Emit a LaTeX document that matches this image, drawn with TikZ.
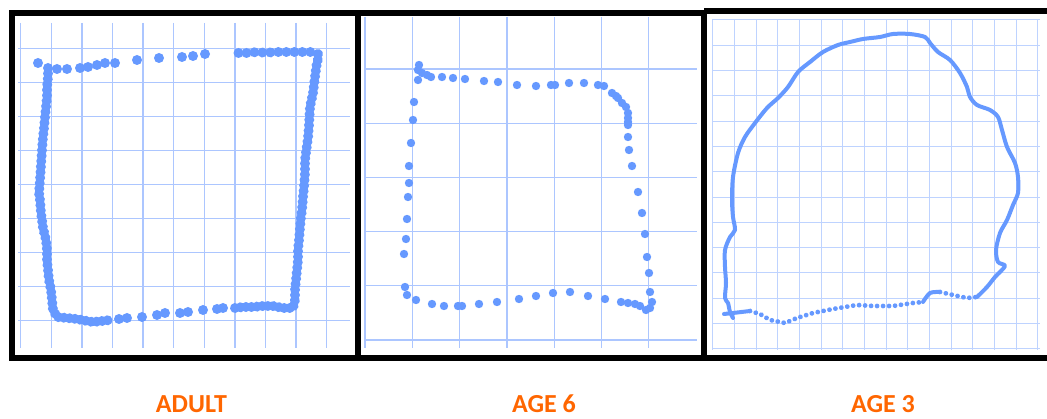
\documentclass[tikz,border=0pt]{standalone}
\usepackage{fontspec}
\newfontfamily\lblfont{Carlito}
\usetikzlibrary{decorations.markings}
\definecolor{dotc}{RGB}{102,153,255}
\definecolor{gridc}{RGB}{172,198,255}
\definecolor{gridl}{RGB}{190,211,255}
\definecolor{lblc}{RGB}{255,102,0}
\begin{document}
\begin{tikzpicture}[x=1pt,y=-1pt,
  dotrow/.style 2 args={decoration={markings,mark=between positions 0 and 1 step #1 with {\fill[dotc] (0,0) circle (#2);}},decorate},
  gridA/.style={draw=gridc,line width=1.3pt},
  gridB/.style={draw=gridl,line width=1pt},
  frame/.style={draw=black,line width=6pt},
  curve/.style={draw=dotc,line width=4pt,line cap=round,line join=round},
  lbl/.style={text=lblc,font=\lblfont\bfseries\fontsize{26}{30}\selectfont,anchor=base}]
\useasboundingbox[fill=white] (0,0) rectangle (1047,419);

% ---------- grids ----------
\foreach \i in {0,...,10} \draw[gridA] ({20.7+30.6*\i},23) -- ({20.7+30.6*\i},348);
\foreach \j in {0,...,8} \draw[gridA] (18,{48.3+34*\j}) -- (350,{48.3+34*\j});
\foreach \i in {-1,...,5} \draw[gridA] ({412.3+47.3*\i},17) -- ({412.3+47.3*\i},348);
\foreach \j in {0,...,5} \draw[gridA] (365,{69+54.2*\j}) -- (697,{69+54.2*\j});
\foreach \i in {0,...,15} \draw[gridB] ({712.7+21.67*\i},20) -- ({712.7+21.67*\i},350);
\foreach \j in {0,...,13} \draw[gridB] (712,{20+25.3*\j}) -- (1040,{20+25.3*\j});

% ---------- ADULT square ----------
\foreach \p in {(38,63),(57,69),(67,69),(80,68),(88,67),(97,65),(105,63),(115,63),(137,60),(159,58),(182,57),(193,56),(205,54),
  (119,319),(127,318),(142,317),(157,315),(165,313),(180,313),(188,312),(203,310),(217,309),(223,308)}
  \fill[dotc] \p circle (5pt);
\path[dotrow={5.5pt}{5pt}] (48,68) -- (48,77) -- (47,87) -- (47,97) -- (46,107) -- (45,117) -- (44,128) -- (43,137) -- (42,150) -- (41,165) -- (40,180) -- (39,193) -- (40,200) -- (41,213) -- (42,220) -- (43,228) -- (46,240) -- (47,250) -- (47,260) -- (48,270) -- (49,280) -- (51,290) -- (52,300) -- (53,310) -- (57,317) -- (67,318) -- (77,319) -- (87,321) -- (93,322) -- (102,321) -- (110,320);
\path[dotrow={5.5pt}{5pt}] (235,308) -- (243,307) -- (253,307) -- (263,306) -- (273,306) -- (283,308) -- (293,308) -- (295,300) -- (295,290) -- (296,280) -- (297,270) -- (298,260) -- (298,250) -- (299,240) -- (300,228) -- (301,217) -- (302,210) -- (303,197) -- (304,187) -- (305,173) -- (305,160) -- (307,145) -- (308,138) -- (309,125) -- (310,107) -- (313,93) -- (315,77) -- (317,62) -- (320,55);
\path[dotrow={8pt}{5pt}] (318,54) -- (312,52) -- (302,52) -- (295,52) -- (283,52) -- (273,52) -- (267,53) -- (257,52) -- (247,53) -- (235,53);

% ---------- AGE 6 square ----------
\foreach \p in {(419,65),(418,70),(422,73),(427,75),(431,77),(418,80),(442,77),(453,78),(465,79),(484,81),(498,82),(517,85),(536,86),(551,85),(555,85),(569,83),(584,83),(598,85),(604,86),(612,93),(616,96),(618,98),(622,103),(626,107),(628,113),(628,118),(628,122),(628,125),(628,137),(629,150),(632,166),(638,192),(642,213),(645,234),(647,257),(649,273),(650,292),(652,302),(650,308),(646,310),(640,306),(635,304),(628,303),(621,302),(605,299),(588,296),(570,292),(553,293),(536,296),(519,299),(497,302),(479,304),(462,306),(458,306),(444,306),(432,304),(416,300),(407,295),(405,287),(404,254),(406,239),(407,219),(408,197),(409,183),(409,166),(411,143),(413,120),(414,102)}
  \fill[dotc] \p circle (4.2pt);

% ---------- AGE 3 shape ----------
\draw[curve] plot[smooth,tension=0.5] coordinates {(977,297)(987,287)(995,277)(1005,266)(998,262)(996,250)(1000,233)(1007,220)(1013,205)(1018,193)(1018,177)(1015,163)(1007,147)(1002,130)(998,117)(990,110)(977,105)(970,97)(967,87)(960,73)(950,60)(938,52)(930,43)(925,37)(910,34)(893,34)(880,37)(863,39)(850,42)(838,45)(823,52)(810,62)(798,72)(788,87)(778,98)(767,108)(755,123)(745,137)(738,153)(733,177)(732,200)(733,217)(735,230)(730,237)(725,250)(725,267)(726,283)(725,298)(728,303)(730,312)(733,318)};
\draw[curve] (724,314) -- (733,313) -- (750,311);
\path[dotrow={6pt}{2.4pt}] (750,311) -- (760,314) -- (770,320) -- (785,323) -- (797,318) -- (813,313) -- (833,309) -- (857,305) -- (873,306) -- (893,306) -- (913,303) -- (923,302);
\draw[curve] plot[smooth,tension=0.5] coordinates {(923,302)(930,293)(940,292)};
\path[dotrow={6pt}{2.4pt}] (940,292) -- (953,295) -- (967,298) -- (977,297);

% ---------- frames ----------
\draw[frame] (12,13) rectangle (357.5,358);
\draw[frame] (357.5,13) -- (704,13) -- (704,358) -- (357.5,358);
\draw[frame] (704,11) -- (1047,11);
\draw[frame] (704,358) -- (1047,358);

% ---------- labels ----------
\node[lbl] (adult) at (191.5,413) {ADULT};
\node[lbl] (age6) at (544,413) {AGE 6};
\node[lbl] (age3) at (883,413) {AGE 3};
\end{tikzpicture}
\end{document}
